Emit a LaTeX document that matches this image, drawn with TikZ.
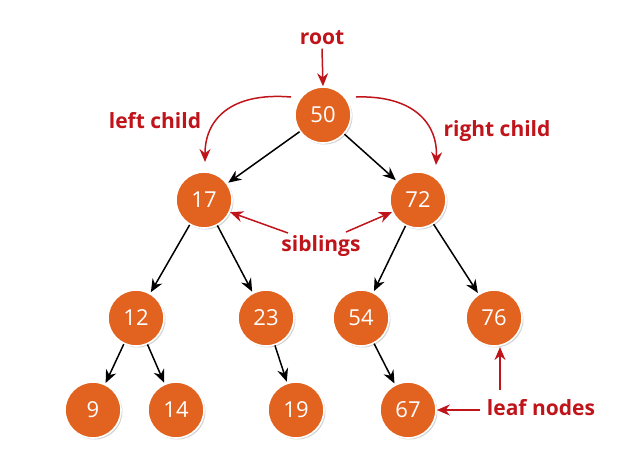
\documentclass[tikz,border=0pt]{standalone}
\usepackage{fontspec}
\setmainfont{Open Sans}
\usetikzlibrary{arrows.meta,shadows}
\definecolor{nodeor}{HTML}{E2621F}
\definecolor{lblred}{HTML}{C0141B}
\begin{document}
\begin{tikzpicture}[x=1pt,y=-1pt,
  tnode/.style={circle,fill=nodeor,draw=white,line width=1.6pt,minimum size=56pt,inner sep=0pt,
    text=white,font=\fontsize{22}{22}\selectfont,drop shadow={shadow xshift=1.5pt,shadow yshift=-1.5pt,opacity=0.35}},
  edge/.style={black,line width=1.5pt,-{Stealth[length=13pt,width=11pt]},shorten >=1pt},
  lbl/.style={text=lblred,font=\fontsize{21}{21}\selectfont\bfseries},
  rarr/.style={lblred,line width=1.5pt,-{Stealth[length=13pt,width=11pt]}}]
\useasboundingbox (0,0) rectangle (628,472);
\node[tnode] (n50) at (323,115) {50};
\node[tnode] (n17) at (204,200) {17};
\node[tnode] (n72) at (418,200) {72};
\node[tnode] (n12) at (136,318) {12};
\node[tnode] (n23) at (266,318) {23};
\node[tnode] (n54) at (361,318) {54};
\node[tnode] (n76) at (494,318) {76};
\node[tnode] (n9) at (93,410) {9};
\node[tnode] (n14) at (176,410) {14};
\node[tnode] (n19) at (296,410) {19};
\node[tnode] (n67) at (408,410) {67};
\draw[edge] (n50) -- (n17);
\draw[edge] (n50) -- (n72);
\draw[edge] (n17) -- (n12);
\draw[edge] (n17) -- (n23);
\draw[edge] (n72) -- (n54);
\draw[edge] (n72) -- (n76);
\draw[edge] (n12) -- (n9);
\draw[edge] (n12) -- (n14);
\draw[edge] (n23) -- (n19);
\draw[edge] (n54) -- (n67);
% labels
\node[lbl] (root) at (322,38) {root};
\node[lbl] (lc) at (155,121) {left child};
\node[lbl] (rc) at (497,131) {right child};
\node[lbl] (sib) at (321,246) {siblings};
\node[lbl] (leaf) at (541,408) {leaf nodes};
\draw[rarr] (root.south) -- (n50.north);
\coordinate (lcs) at (291,97);
\coordinate (lce) at (205,162);
\draw[rarr] (lcs) .. controls (230,92) and (205,120) .. (lce);
\coordinate (rcs) at (356,97);
\coordinate (rce) at (436,165);
\draw[rarr] (rcs) .. controls (415,95) and (438,125) .. (rce);
\coordinate (s1) at (288,233);
\coordinate (s2) at (346,232);
\draw[rarr] (s1) -- (n17.-25);
\draw[rarr] (s2) -- (n72.205);
\coordinate (lf) at (480,410);
\draw[rarr] (lf) -- (n67.east);
\coordinate (lf2) at (500,390);
\draw[rarr] (lf2) -- (500,347);
\end{tikzpicture}
\end{document}
